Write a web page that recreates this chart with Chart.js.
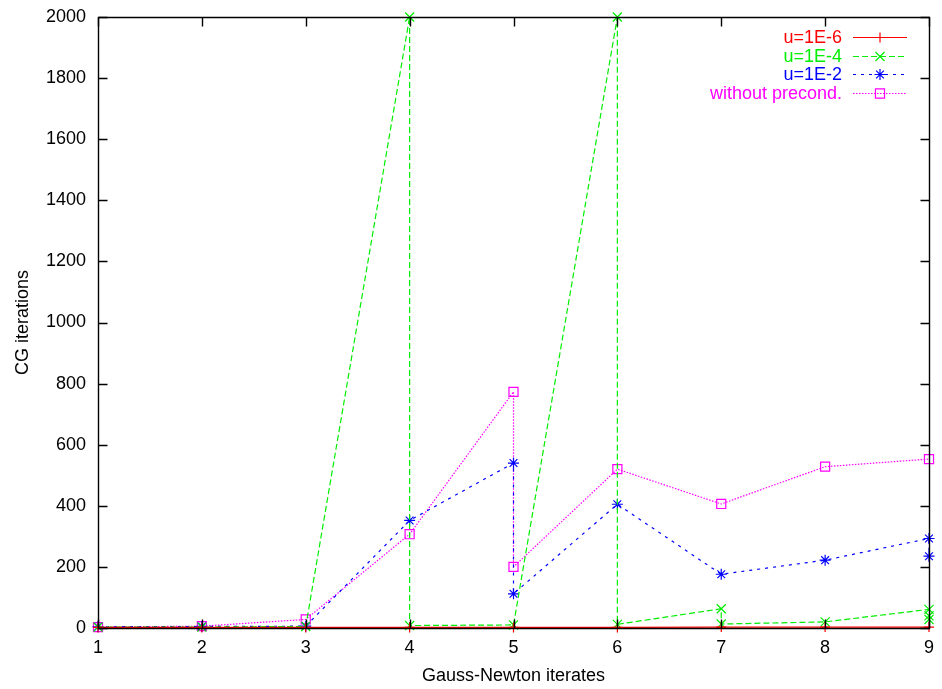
<!DOCTYPE html>
<html>
<head>
<meta charset="utf-8">
<title>CG iterations per Gauss-Newton iterate</title>
<script src="https://cdn.jsdelivr.net/npm/chart.js@4/dist/chart.umd.min.js"></script>
<style>
  html, body { margin: 0; padding: 0; background: #ffffff; }
  #wrap { width: 942px; height: 689px; }
</style>
</head>
<body>
<div id="wrap"><canvas id="cv" width="942" height="689"></canvas></div>
<script>
// Gauss-Newton iterate (x) and CG iteration count (y) for each preconditioner setting.
const iterU6 = [1, 2, 3, 4, 5, 6, 7, 8, 9];
const cgU6   = [2, 2, 2, 2, 2, 2, 3, 3, 3];

const iterU4 = [1, 2, 3, 4, 4, 5, 6, 6, 7, 7, 8, 9, 9, 9];
const cgU4   = [3, 3, 5, 2000, 8, 10, 2000, 12, 63, 13, 20, 61, 40, 28];

const iterU2 = [1, 2, 3, 4, 5, 5, 6, 7, 8, 9, 9];
const cgU2   = [4, 5, 6, 352, 540, 112, 405, 176, 222, 293, 235];

const iterNone = [1, 2, 3, 4, 5, 5, 6, 7, 8, 9];
const cgNone   = [3, 6, 28, 307, 773, 200, 520, 406, 528, 553];

const seriesLabels = ['u=1E-6', 'u=1E-4', 'u=1E-2', 'without precond.'];
const xTickValues = [1, 2, 3, 4, 5, 6, 7, 8, 9];
const yTickValues = [0, 200, 400, 600, 800, 1000, 1200, 1400, 1600, 1800, 2000];

const FONT = 'Liberation Sans, Arial, Helvetica, sans-serif';

function pairs(xs, ys) { return xs.map((x, i) => ({ x: x, y: ys[i] })); }

function series(label, xs, ys, color, dash, style, radius) {
  return {
    label: label,
    data: pairs(xs, ys),
    showLine: true,
    borderColor: color,
    backgroundColor: 'rgba(0,0,0,0)',
    borderWidth: 1.2,
    borderDash: dash,
    pointStyle: style,
    pointRadius: radius,
    pointBorderColor: color,
    pointBackgroundColor: 'rgba(0,0,0,0)',
    pointBorderWidth: 1.2,
    pointHoverRadius: radius,
    tension: 0,
    clip: 12
  };
}

// Frame, inward tick marks on all four sides, and an in-plot key.
const frameAndKey = {
  id: 'frameAndKey',
  afterDatasetsDraw(chart) {
    const ctx = chart.ctx;
    const a = chart.chartArea;
    const xs = chart.scales.x, ys = chart.scales.y;
    const L = Math.round(a.left) + 0.5, R = Math.round(a.right) + 0.5;
    const T = Math.round(a.top) + 0.5, B = Math.round(a.bottom) + 0.5;
    const tick = 9;
    ctx.save();
    ctx.strokeStyle = '#000000';
    ctx.lineWidth = 1.4;
    ctx.setLineDash([]);
    ctx.beginPath();
    ctx.rect(L, T, R - L, B - T);
    ctx.stroke();
    ctx.beginPath();
    xTickValues.forEach(v => {
      const px = Math.round(xs.getPixelForValue(v)) + 0.5;
      ctx.moveTo(px, B); ctx.lineTo(px, B - tick);
      ctx.moveTo(px, T); ctx.lineTo(px, T + tick);
    });
    yTickValues.forEach(v => {
      const py = Math.round(ys.getPixelForValue(v)) + 0.5;
      ctx.moveTo(L, py); ctx.lineTo(L + tick, py);
      ctx.moveTo(R, py); ctx.lineTo(R - tick, py);
    });
    ctx.stroke();

    // key
    const textRight = 842, lineStart = 853, lineEnd = 907, markX = 880;
    const rowTop = 37, rowStep = 18.7;
    ctx.font = '18px ' + FONT;
    ctx.textAlign = 'right';
    ctx.textBaseline = 'middle';
    chart.data.datasets.forEach((ds, i) => {
      const y = rowTop + i * rowStep;
      ctx.fillStyle = ds.borderColor;
      ctx.fillText(ds.label, textRight, y + 1);
      ctx.strokeStyle = ds.borderColor;
      ctx.lineWidth = 1.2;
      ctx.setLineDash(ds.borderDash || []);
      ctx.beginPath();
      ctx.moveTo(lineStart, Math.round(y) + 0.5);
      ctx.lineTo(lineEnd, Math.round(y) + 0.5);
      ctx.stroke();
      ctx.setLineDash([]);
      ctx.fillStyle = 'rgba(0,0,0,0)';
      Chart.helpers.drawPoint(ctx, {
        pointStyle: ds.pointStyle,
        radius: ds.pointRadius,
        rotation: 0,
        borderWidth: 1.2
      }, markX, Math.round(y) + 0.5);
    });
    ctx.restore();
  }
};

new Chart(document.getElementById('cv'), {
  type: 'scatter',
  data: {
    datasets: [
      series(seriesLabels[0], iterU6, cgU6, '#ff0000', [], 'cross', 5),
      series(seriesLabels[1], iterU4, cgU4, '#00ee00', [6, 3], 'crossRot', 6.4),
      series(seriesLabels[2], iterU2, cgU2, '#0000ff', [3, 5], 'star', 5.5),
      series(seriesLabels[3], iterNone, cgNone, '#ff00ff', [1.5, 1.5], 'rect', 6.4)
    ]
  },
  options: {
    responsive: false,
    animation: false,
    events: [],
    layout: { padding: { left: 0, right: 13, top: 17, bottom: 0 } },
    plugins: {
      legend: { display: false },
      tooltip: { enabled: false }
    },
    scales: {
      x: {
        type: 'linear',
        min: 1,
        max: 9,
        afterFit(scale) {
          scale.height = 61;
          scale.paddingLeft = 0; scale.paddingRight = 0;
        },
        afterBuildTicks(scale) { scale.ticks = xTickValues.map(v => ({ value: v })); },
        grid: { display: false, drawTicks: false },
        border: { display: false },
        ticks: {
          padding: 9,
          color: '#000000',
          font: { family: FONT, size: 18 },
          callback: v => String(v)
        },
        title: {
          display: true,
          text: 'Gauss-Newton iterates',
          color: '#000000',
          font: { family: FONT, size: 18 },
          padding: { top: 0, bottom: 2 }
        }
      },
      y: {
        type: 'linear',
        min: 0,
        max: 2000,
        afterFit(scale) {
          scale.width = 98;
          scale.paddingTop = 0; scale.paddingBottom = 0;
        },
        afterBuildTicks(scale) { scale.ticks = yTickValues.map(v => ({ value: v })); },
        grid: { display: false, drawTicks: false },
        border: { display: false },
        ticks: {
          padding: 12,
          color: '#000000',
          font: { family: FONT, size: 18 },
          callback: v => String(v)
        },
        title: {
          display: true,
          text: 'CG iterations',
          color: '#000000',
          font: { family: FONT, size: 18 },
          padding: { top: 12, bottom: 0 }
        }
      }
    }
  },
  plugins: [frameAndKey]
});
</script>
</body>
</html>
